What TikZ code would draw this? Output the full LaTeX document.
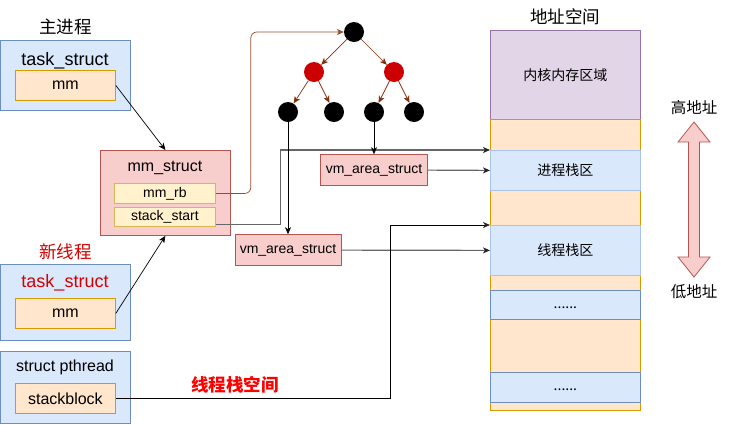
\documentclass[tikz,border=0pt]{standalone}
\usepackage{fontspec}
\setmainfont{Liberation Sans}
\newfontfamily\cjk{Noto Sans CJK SC}
\usetikzlibrary{arrows.meta, positioning}

\definecolor{procfill}{HTML}{DAE8FC}
\definecolor{procline}{HTML}{6C8EBF}
\definecolor{procsoft}{HTML}{A9C4EB}
\definecolor{fieldfill}{HTML}{FFE6CC}
\definecolor{fieldline}{HTML}{D79B00}
\definecolor{mmfill}{HTML}{F8CECC}
\definecolor{mmline}{HTML}{B85450}
\definecolor{rbfill}{HTML}{FFF2CC}
\definecolor{rbline}{HTML}{D6B656}
\definecolor{kernfill}{HTML}{E1D5E7}
\definecolor{kernline}{HTML}{9673A6}
\definecolor{treeline}{HTML}{862D0B}
\definecolor{rbwire}{HTML}{9B4A2C}
\definecolor{rbred}{HTML}{CC0000}
\definecolor{threadred}{HTML}{D40000}
\definecolor{labelred}{HTML}{FF0000}
\definecolor{wiregray}{HTML}{666666}

\begin{document}
\begin{tikzpicture}[
    x=1pt, y=-1pt,
    procbox/.style={
        rectangle,
        anchor=north west,
        minimum width=130pt,
        draw=procline,
        fill=procfill,
        line width=0.8pt
    },
    fieldbox/.style={
        rectangle,
        anchor=north west,
        minimum width=100pt,
        minimum height=30pt,
        draw=fieldline,
        fill=fieldfill,
        line width=0.8pt,
        font=\fontsize{16}{19}\selectfont
    },
    mmbox/.style={
        rectangle,
        draw=mmline,
        fill=mmfill,
        line width=0.8pt
    },
    rbfield/.style={
        rectangle,
        anchor=north west,
        minimum width=101pt,
        minimum height=20pt,
        inner sep=0pt,
        draw=rbline,
        fill=rbfill,
        line width=0.8pt,
        font=\fontsize{14}{17}\selectfont
    },
    vmbox/.style={
        mmbox,
        minimum width=107pt,
        minimum height=31pt,
        font=\fontsize{14}{17}\selectfont
    },
    title/.style={anchor=base, inner sep=0pt, font=\fontsize{18}{21}\selectfont},
    subtitle/.style={anchor=base, inner sep=0pt, font=\fontsize{16}{19}\selectfont},
    cjktitle/.style={inner sep=0pt, font=\cjk\fontsize{17.5}{21}\selectfont},
    cjklabel/.style={inner sep=0pt, font=\cjk\fontsize{15.5}{19}\selectfont},
    rbnode/.style={circle, fill=black, minimum size=20pt, inner sep=0pt},
    rednode/.style={rbnode, fill=rbred},
    region/.style={
        rectangle,
        anchor=north west,
        minimum width=150pt,
        draw=fieldline,
        fill=fieldfill,
        line width=0.8pt,
        font=\cjk\fontsize{14}{17}\selectfont
    },
    kernel/.style={region, draw=kernline, fill=kernfill},
    stackzone/.style={region, draw=procsoft, fill=procfill},
    dotzone/.style={region, draw=procline, fill=procfill},
    ptr/.style={
        -{Stealth[length=7pt, width=6pt, inset=2pt]},
        draw=black,
        line width=0.7pt
    },
    treelink/.style={ptr, draw=treeline},
    rblink/.style={ptr, draw=rbwire, rounded corners=6pt},
    wire/.style={
        -{Stealth[length=7pt, width=6pt, inset=2pt, color=black!85]},
        draw=wiregray,
        line width=1.2pt
    },
    updown/.style={draw=mmline, fill=mmfill, line width=0.8pt}
]
    \useasboundingbox (0,0) rectangle (730,424);

    \node (task1) [procbox, minimum height=70pt] at (0,40) {};
    \node (main) [cjktitle, above=5pt of task1] {主进程};
    \node (task1t) [title] at (65,65) {task\_struct};
    \node (task1mm) [fieldbox] at (15,70) {mm};

    \node (mmstruct) [mmbox, anchor=north west, minimum width=130pt, minimum height=85pt] at (100,150) {};
    \node (mmstructt) [subtitle] at (165,171) {mm\_struct};
    \node (mmrb) [rbfield] at (114,183) {mm\_rb};
    \node (stackstart) [rbfield, minimum height=19pt] at (114,207) {stack\_start};

    \node (task2) [procbox, minimum height=76pt] at (0,264) {};
    \node (newthread) [cjktitle, text=threadred, above=4pt of task2] {新线程};
    \node (task2t) [title, text=threadred] at (65,287) {task\_struct};
    \node (task2mm) [fieldbox] at (15,298) {mm};

    \node (pthread) [procbox, minimum height=72pt] at (0,351) {};
    \node (pthreadt) [subtitle] at (65,371) {struct pthread};
    \node (stackblock) [fieldbox] at (15,383) {stackblock};

    \node (root) [rbnode] at (354,32) {};
    \node (red1) [rednode] at (314,72) {};
    \node (red2) [rednode] at (394,72) {};
    \node (leaf1) [rbnode] at (288,112) {};
    \node (leaf2) [rbnode] at (334,112) {};
    \node (leaf3) [rbnode] at (374,112) {};
    \node (leaf4) [rbnode] at (414,112) {};

    \node (vm1) [vmbox, below=32pt of leaf3] {vm\_area\_struct};
    \node (vm2) [vmbox, below=112pt of leaf1, minimum width=106pt] {vm\_area\_struct};

    \node (kern) [kernel, minimum height=89pt] at (490,30) {内核内存区域};
    \node (space) [cjktitle, above=5pt of kern] {地址空间};
    \node (user) [region, minimum height=291pt] at (490,119) {};
    \node (procstack) [stackzone, minimum height=40pt] at (490,150) {进程栈区};
    \node (thrstack) [stackzone, minimum height=50pt] at (490,225) {线程栈区};
    \node (dots1) [dotzone, minimum height=29pt] at (490,290) {\strut......};
    \node (dots2) [dotzone, minimum height=30pt] at (490,372) {\strut......};

    \draw [updown] (694,122) -- (710,142) -- (699.5,142) -- (699.5,257) -- (710,257)
        -- (694,277) -- (678,257) -- (688.5,257) -- (688.5,142) -- (678,142) -- cycle;
    \node (high) [cjklabel] at (694,108) {高地址};
    \node (low) [cjklabel] at (694,292) {低地址};

    \node (gap) [cjktitle, text=labelred, font=\cjk\bfseries\fontsize{17.5}{21}\selectfont] at (235,385) {线程栈空间};

    \draw [ptr] (task1mm.east) -- (mmstruct.north);
    \draw [ptr] (task2mm.east) -- (mmstruct.south);

    \draw [treelink] (root) -- (red1);
    \draw [treelink] (root) -- (red2);
    \draw [treelink] (red1) -- (leaf1);
    \draw [treelink] (red1) -- (leaf2);
    \draw [treelink] (red2) -- (leaf3);
    \draw [treelink] (red2) -- (leaf4);

    \draw [rblink] (mmrb.east) -- ++(35,0) |- (root);
    \draw [wire] ([yshift=2pt]stackstart.south east) -- ++(65,0) |- (procstack.north west);

    \draw [ptr] (leaf1) -- (vm2);
    \draw [ptr] (leaf3) -- (vm1);

    \draw [wire] (vm1.east) -- (procstack.west);
    \draw [wire] (vm2.east) -- (thrstack.west);
    \draw [wire, draw=black, line width=0.9pt] (stackblock.east) -- ++(275,0) |- (thrstack.north west);

\end{tikzpicture}
\end{document}
